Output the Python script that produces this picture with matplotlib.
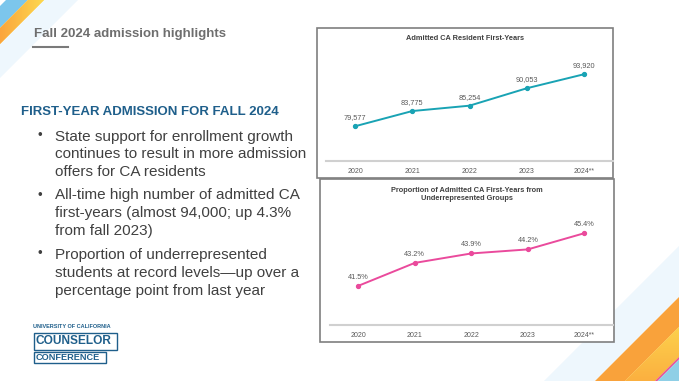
import matplotlib.pyplot as plt
import numpy as np
from matplotlib.patches import Polygon, Rectangle
from matplotlib.colors import LinearSegmentedColormap

plt.rcParams['font.family'] = ['Liberation Sans', 'DejaVu Sans']

# data
years = ['2020', '2021', '2022', '2023', '2024**']
admitted = [79577, 83775, 85254, 90053, 93920]
admitted_labels = ['79,577', '83,775', '85,254', '90,053', '93,920']
urg_pct = [41.5, 43.2, 43.9, 44.2, 45.4]

bullets = [
    ['State support for enrollment growth',
     'continues to result in more admission',
     'offers for CA residents'],
    ['All-time high number of admitted CA',
     'first-years (almost 94,000; up 4.3%',
     'from fall 2023)'],
    ['Proportion of underrepresented',
     'students at record levels\u2014up over a',
     'percentage point from last year'],
]

W, H = 679, 381
fig = plt.figure(figsize=(W / 100, H / 100), dpi=100)

# background layer in pixel coords
bg = fig.add_axes([0, 0, 1, 1])
bg.set_xlim(0, W)
bg.set_ylim(H, 0)
bg.axis('off')


def band(c1, c2, color, z=1):
    # diagonal band between x+y=c1 and x+y=c2
    p = Polygon([(c1, 0), (c2, 0), (0, c2), (0, c1)] if c2 < 400 else
                [(c1 - H, H), (c2 - H, H), (W, c2 - W), (W, c1 - W)],
                closed=True, facecolor=color, edgecolor='none', zorder=z)
    bg.add_patch(p)
    return p


# top-left corner
band(44, 78, '#eef7fd')
band(6, 28, '#7cc6ec')
p = band(28, 44, '#fdd24c', z=2)
grad = np.linspace(0, 1, 100).reshape(1, -1)
cm = LinearSegmentedColormap.from_list('yo', ['#fba53c', '#fdd84e'])
im = bg.imshow(grad, extent=(0, 44, 44, 0), cmap=cm, aspect='auto', zorder=3)
im.set_clip_path(p)

# bottom-right corner
band(925, 976, '#eef7fd')
band(976, 1006, '#f9a23b')
p2 = band(1006, 1036, '#fcc945', z=2)
cm2 = LinearSegmentedColormap.from_list('yo2', ['#fdd24c', '#fbb040'])
im2 = bg.imshow(np.linspace(0, 1, 100).reshape(-1, 1), extent=(620, W, H, 325),
                cmap=cm2, aspect='auto', zorder=3)
im2.set_clip_path(p2)
band(1036, 1038.5, '#e8529a', z=4)
band(1038.5, 1200, '#8fcfe6', z=4)

# heading area
bg.text(34, 34, 'Fall 2024 admission highlights', fontsize=9.5, fontweight='bold',
        color='#6e6e6e', va='center', ha='left')
bg.plot([33, 68], [47, 47], color='#7a7a7a', lw=1.5)
bg.text(21, 112, 'FIRST-YEAR ADMISSION FOR FALL 2024', fontsize=9.5, fontweight='bold',
        color='#1f5f8b', va='center', ha='left')

y0 = 136.5
for lines in bullets:
    bg.text(40, y0, '\u2022', fontsize=9.5, color='#404040', va='center', ha='center')
    for j, ln in enumerate(lines):
        bg.text(55, y0 + j * 18, ln, fontsize=11, color='#404040', va='center', ha='left')
    y0 += 3 * 18 + 5

# logo
blue = '#1f5f8b'
bg.text(33, 327, 'UNIVERSITY OF CALIFORNIA', fontsize=4, fontweight='bold', color=blue,
        va='center', ha='left')
bg.add_patch(Rectangle((34, 333), 83, 17, fill=False, edgecolor=blue, lw=1))
bg.text(36, 341.5, 'COUNSELOR', fontsize=8.6, fontweight='bold', color=blue,
        va='center', ha='left')
bg.add_patch(Rectangle((34, 352), 72, 11, fill=False, edgecolor=blue, lw=1))
bg.text(36, 357.5, 'CONFERENCE', fontsize=6.6, fontweight='bold', color=blue,
        va='center', ha='left')

# chart frames
bg.add_patch(Rectangle((316.5, 28), 296, 149.5, facecolor='white', edgecolor='#7f7f7f',
                       lw=1.2, zorder=5))
bg.add_patch(Rectangle((320, 179), 293.5, 162.5, facecolor='white', edgecolor='#7f7f7f',
                       lw=1.2, zorder=5))

bg.text(465, 38.5, 'Admitted CA Resident First-Years', fontsize=5.3, fontweight='bold',
        color='#404040', ha='center', va='center', zorder=6)
bg.text(467, 194.5, 'Proportion of Admitted CA First-Years from\nUnderrepresented Groups',
        fontsize=5.3, fontweight='bold', color='#404040', ha='center', va='center',
        linespacing=1.25, zorder=6)


def axes_px(x1, y1, x2, y2):
    return fig.add_axes([x1 / W, 1 - y2 / H, (x2 - x1) / W, (y2 - y1) / H])


def style(ax):
    ax.patch.set_alpha(0)
    for s in ['top', 'left', 'right']:
        ax.spines[s].set_visible(False)
    ax.spines['bottom'].set_color('#d0d0d0')
    ax.spines['bottom'].set_linewidth(1.5)
    ax.set_yticks([])
    ax.set_xticks(range(len(years)))
    ax.set_xticklabels(years)
    ax.tick_params(axis='x', length=0, labelsize=5, labelcolor='#595959', pad=5)
    ax.set_xlim(-0.5, len(years) - 0.5)
    ax.set_zorder(10)


ax1 = axes_px(326.4, 52.2, 612.6, 161)
style(ax1)
x = np.arange(len(years))
ax1.plot(x, admitted, color='#19a3b4', lw=1.4, marker='o', ms=2.8)
ax1.set_ylim(70000, 100000)
for xi, v, lab in zip(x, admitted, admitted_labels):
    ax1.annotate(lab, (xi, v), xytext=(0, 6.2), textcoords='offset points',
                 ha='center', va='center', fontsize=5.3, color='#595959')

ax2 = axes_px(330, 211.6, 612.6, 325)
style(ax2)
ax2.plot(x, urg_pct, color='#ea4a9c', lw=1.4, marker='o', ms=2.8)
ax2.set_ylim(38.6, 47)
for xi, v in zip(x, urg_pct):
    ax2.annotate(f'{v:.1f}%', (xi, v), xytext=(0, 6.3), textcoords='offset points',
                 ha='center', va='center', fontsize=5.3, color='#595959')

fig.savefig('out.png', dpi=100)
